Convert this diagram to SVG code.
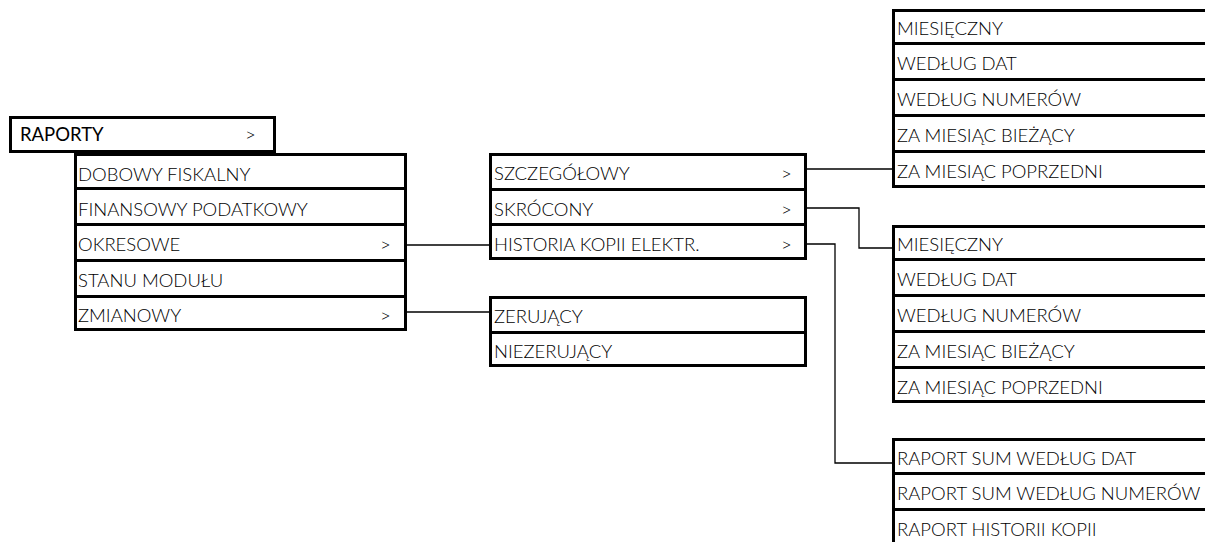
<svg xmlns="http://www.w3.org/2000/svg" width="1205" height="542" viewBox="0 0 1205 542">
<style>
.box{fill:#fff;stroke:#000;stroke-width:3}
.t{font-family:Lato,"Liberation Sans",sans-serif;font-size:18.5px;fill:#000;font-weight:300}
.h{font-family:Lato,"Liberation Sans",sans-serif;font-size:18.5px;fill:#000;font-weight:400}
.c{fill:none;stroke:#000;stroke-width:1.3}
</style>
<rect width="1205" height="542" fill="#fff"/>
<g id="connectors">
<path class="c" d="M407 245H489"/>
<path class="c" d="M407 312H489"/>
<path class="c" d="M807 169H892"/>
<path class="c" d="M807 208H859V248H892"/>
<path class="c" d="M807 244H835V463H892"/>
</g>
<g id="raporty">
<rect class="box" x="10.5" y="117.5" width="264" height="34"/>
<text class="h" x="20" y="141">RAPORTY</text>
<text class="t" x="245" y="141">&gt;</text>
</g>
<g id="menu-raporty">
<rect class="box" x="75.5" y="154.5" width="330" height="34"/>
<rect class="box" x="75.5" y="188.5" width="330" height="36"/>
<rect class="box" x="75.5" y="224.5" width="330" height="36"/>
<rect class="box" x="75.5" y="260.5" width="330" height="36"/>
<rect class="box" x="75.5" y="296.5" width="330" height="33"/>
<text class="t" x="78" y="181">DOBOWY FISKALNY</text>
<text class="t" x="78" y="216">FINANSOWY PODATKOWY</text>
<text class="t" x="78" y="251">OKRESOWE</text>
<text class="t" x="380" y="251">&gt;</text>
<text class="t" x="78" y="287">STANU MODUŁU</text>
<text class="t" x="78" y="322">ZMIANOWY</text>
<text class="t" x="380" y="322">&gt;</text>
</g>
<g id="menu-okresowe">
<rect class="box" x="490.5" y="154.5" width="315" height="35"/>
<rect class="box" x="490.5" y="189.5" width="315" height="35"/>
<rect class="box" x="490.5" y="224.5" width="315" height="34"/>
<text class="t" x="494" y="180">SZCZEGÓŁOWY</text>
<text class="t" x="781" y="180">&gt;</text>
<text class="t" x="494" y="216">SKRÓCONY</text>
<text class="t" x="781" y="216">&gt;</text>
<text class="t" x="494" y="251">HISTORIA KOPII ELEKTR.</text>
<text class="t" x="781" y="251">&gt;</text>
</g>
<g id="menu-zmianowy">
<rect class="box" x="490.5" y="297.5" width="315" height="35"/>
<rect class="box" x="490.5" y="332.5" width="315" height="33"/>
<text class="t" x="494" y="323">ZERUJĄCY</text>
<text class="t" x="494" y="358">NIEZERUJĄCY</text>
</g>
<g id="menu-szczegolowy">
<rect class="box" x="893.5" y="10.5" width="330" height="33"/>
<rect class="box" x="893.5" y="43.5" width="330" height="36"/>
<rect class="box" x="893.5" y="79.5" width="330" height="36"/>
<rect class="box" x="893.5" y="115.5" width="330" height="36"/>
<rect class="box" x="893.5" y="151.5" width="330" height="35"/>
<text class="t" x="897" y="35">MIESIĘCZNY</text>
<text class="t" x="897" y="70">WEDŁUG DAT</text>
<text class="t" x="897" y="106">WEDŁUG NUMERÓW</text>
<text class="t" x="897" y="142">ZA MIESIĄC BIEŻĄCY</text>
<text class="t" x="897" y="178">ZA MIESIĄC POPRZEDNI</text>
</g>
<g id="menu-skrocony">
<rect class="box" x="893.5" y="226.5" width="330" height="33"/>
<rect class="box" x="893.5" y="259.5" width="330" height="36"/>
<rect class="box" x="893.5" y="295.5" width="330" height="36"/>
<rect class="box" x="893.5" y="331.5" width="330" height="36"/>
<rect class="box" x="893.5" y="367.5" width="330" height="34"/>
<text class="t" x="897" y="251">MIESIĘCZNY</text>
<text class="t" x="897" y="286">WEDŁUG DAT</text>
<text class="t" x="897" y="322">WEDŁUG NUMERÓW</text>
<text class="t" x="897" y="358">ZA MIESIĄC BIEŻĄCY</text>
<text class="t" x="897" y="394">ZA MIESIĄC POPRZEDNI</text>
</g>
<g id="menu-historia">
<rect class="box" x="893.5" y="439.5" width="330" height="34"/>
<rect class="box" x="893.5" y="473.5" width="330" height="36"/>
<rect class="box" x="893.5" y="509.5" width="330" height="40"/>
<text class="t" x="897" y="465">RAPORT SUM WEDŁUG DAT</text>
<text class="t" x="897" y="500">RAPORT SUM WEDŁUG NUMERÓW</text>
<text class="t" x="897" y="536">RAPORT HISTORII KOPII</text>
</g>
</svg>
